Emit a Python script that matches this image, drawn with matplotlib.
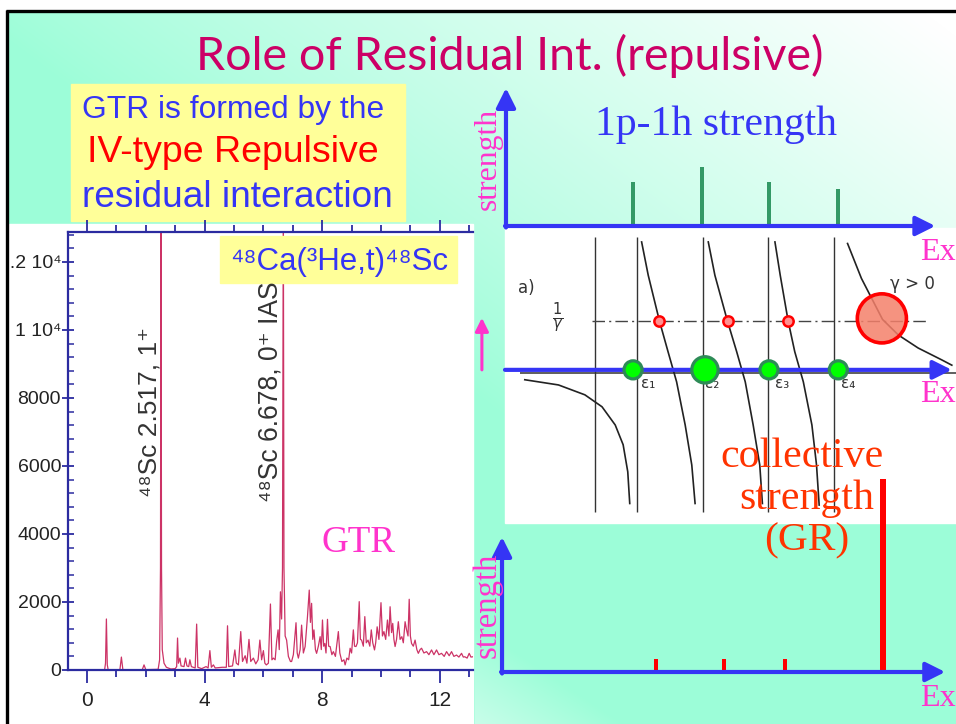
import numpy as np
import matplotlib
matplotlib.use("Agg")
import matplotlib.pyplot as plt
from matplotlib.patches import Rectangle

# ---------------- data ----------------
# 48Ca(3He,t)48Sc spectrum (Ex in MeV, counts)
spec_E = [-0.6, 0.0, 0.6, 0.63, 0.66, 0.69, 0.72, 1.12, 1.17, 1.22, 1.88, 1.94, 2.0, 2.42, 2.47, 2.50,
          2.517, 2.535, 2.56, 2.62, 2.7, 2.85, 3.0, 3.05, 3.08, 3.11, 3.16, 3.2, 3.3, 3.35, 3.4, 3.46,
          3.5, 3.55, 3.68, 3.73, 3.77, 3.9, 4.05, 4.12, 4.18, 4.23, 4.3, 4.36, 4.6, 4.74, 4.78, 4.82,
          4.95, 5.03, 5.08, 5.15, 5.23, 5.29, 5.38, 5.44, 5.51, 5.57, 5.66, 5.74, 5.82, 5.88, 5.94,
          6.0, 6.05, 6.1, 6.17, 6.24, 6.29, 6.34, 6.40, 6.45, 6.5, 6.54, 6.58, 6.62, 6.65, 6.678,
          6.70, 6.74, 6.79, 6.85, 6.92, 6.96, 7.02, 7.11, 7.15, 7.19, 7.25, 7.3, 7.36, 7.42, 7.5,
          7.56, 7.6, 7.64, 7.68, 7.72, 7.77, 7.81, 7.87, 7.93, 7.97, 8.01, 8.05, 8.09, 8.13, 8.18,
          8.22, 8.27, 8.33, 8.38, 8.45, 8.55, 8.6, 8.67, 8.74, 8.78, 8.84, 8.9, 8.95, 9.0, 9.06,
          9.1, 9.15, 9.2, 9.26, 9.3, 9.34, 9.4, 9.45, 9.5, 9.56, 9.62, 9.67, 9.72, 9.78, 9.82,
          9.87, 9.93, 10.0, 10.05, 10.1, 10.16, 10.22, 10.27, 10.31, 10.36, 10.4, 10.44, 10.48,
          10.53, 10.59, 10.65, 10.71, 10.76, 10.82, 10.87, 10.92, 10.96, 11.0, 11.04, 11.1, 11.16,
          11.22, 11.27, 11.33, 11.38, 11.46, 11.55, 11.63, 11.72, 11.8, 11.89, 11.97, 12.06, 12.15,
          12.23, 12.32, 12.4, 12.48, 12.57, 12.65, 12.74, 12.8, 12.85, 12.93, 13.0, 13.06, 13.13]
spec_C = [0, 10, 10, 200, 1500, 150, 10, 10, 380, 10, 10, 150, 10, 20, 300, 3000,
          14000, 3000, 600, 200, 80, 30, 40, 100, 940, 200, 350, 120, 100, 350, 120, 100,
          300, 100, 60, 1350, 80, 40, 100, 60, 570, 80, 150, 60, 80, 80, 1300, 100,
          120, 590, 200, 150, 1130, 250, 420, 200, 900, 250, 350, 180, 300, 880, 300,
          570, 200, 150, 200, 1940, 300, 350, 300, 840, 1180, 600, 2300, 1500, 3000, 14000,
          3000, 1000, 880, 400, 250, 250, 450, 1390, 500, 350, 600, 1320, 500, 690, 1570,
          2350, 1400, 1960, 900, 1180, 600, 490, 700, 980, 600, 1470, 700, 780, 500, 1490,
          700, 690, 450, 540, 400, 1130, 500, 250, 300, 150, 350, 300, 640, 500, 1180,
          700, 690, 800, 2010, 900, 880, 700, 1570, 800, 880, 700, 1180, 800, 590, 800,
          1270, 900, 1980, 1000, 1130, 900, 1470, 1000, 1860, 1100, 1370, 900, 690,
          900, 1420, 900, 980, 800, 1420, 1180, 1000, 2080, 1000, 780, 700, 880,
          600, 490, 600, 640, 500, 540, 450, 590, 450, 590, 450, 490, 400,
          540, 420, 540, 400, 440, 380, 490, 380, 390, 350, 490, 380, 390]
spec_yticks = [0, 2000, 4000, 6000, 8000, 10000, 12000]
spec_ylabels = ["0", "2000", "4000", "6000", "8000", "1 10\u2074", "1.2 10\u2074"]
spec_xticks = [0, 4, 8, 12]

# schematic (arbitrary energy units; poles eps_1..eps_4)
pp_x = [0.94, 1.98, 3.0, 4.05]            # unperturbed 1p-1h energies
pp_strength = [44, 59, 44, 37]
green_x = [0.94, 2.03, 3.0, 4.05]
green_size = [170, 360, 170, 170]
red_x = [1.33, 2.38, 3.29]
big_red_x = 4.71
gr_x = [1.29, 2.32, 3.24, 4.73]
gr_strength = [13, 13, 13, 193]
pole_lines = [0.36, 1.0, 2.0, 2.985, 3.985]

br0_x = [-0.70, -0.19, 0.21, 0.47, 0.67, 0.79, 0.86, 0.89]
br0_y = [-0.13, -0.23, -0.42, -0.65, -1.0, -1.38, -1.90, -2.51]
br1_x = [1.07, 1.17, 1.34, 1.47, 1.60, 1.73, 1.83, 1.88]
br1_y = [2.52, 1.88, 1.0, 0.41, -0.17, -1.0, -1.77, -2.51]
br2_x = [2.08, 2.18, 2.37, 2.51, 2.64, 2.76, 2.86, 2.90]
br2_y = [2.52, 1.88, 1.0, 0.41, -0.17, -1.0, -1.77, -2.51]
br3_x = [3.09, 3.17, 3.29, 3.39, 3.52, 3.65, 3.72, 3.76]
br3_y = [2.52, 1.88, 1.0, 0.41, -0.17, -1.0, -1.77, -2.54]
br4_x = [4.19, 4.40, 4.72, 4.96, 5.26, 5.62, 5.77]
br4_y = [2.49, 1.82, 1.03, 0.73, 0.48, 0.25, 0.15]

# ---------------- figure ----------------
W, H = 956, 724
fig = plt.figure(figsize=(W / 100, H / 100), dpi=100)


def axpos(x0, y0, x1, y1):
    return [x0 / W, 1 - y1 / H, (x1 - x0) / W, (y1 - y0) / H]


def bare(ax):
    ax.set_xticks([])
    ax.set_yticks([])
    for sp in ax.spines.values():
        sp.set_visible(False)


BLUE = "#3535F5"
MAG = "#FF33CC"
NAVY = "#2B2BA0"
SANS = ["Liberation Sans", "DejaVu Sans"]
SERIF = ["Liberation Serif", "DejaVu Serif"]

# background
bg = fig.add_axes([0, 0, 1, 1], zorder=-5)
bg.set_xlim(0, W); bg.set_ylim(H, 0); bg.axis("off")
aqua = np.array([156, 253, 216]) / 255.0
XX, YY = np.meshgrid(np.arange(W) + 0.5, np.arange(H) + 0.5)
t = np.clip(XX / W + (1 - YY / H) - 0.95, 0, 1) ** 0.9
mask = (YY > 523) & (XX > 475)
t2 = np.clip(0.45 * (1 - ((XX - 475) / 150 + (724 - YY) / 100)), 0, 1)
t = np.where(mask, t2, t)
img = aqua[None, None, :] * (1 - t[..., None]) + t[..., None]
bg.imshow(img, extent=(0, W, H, 0), aspect="auto", interpolation="bilinear")
bg.add_patch(Rectangle((71, 84), 334, 137, color="#FFFF99"))
bg.add_patch(Rectangle((9, 224), 464, H - 224, color="white"))
bg.add_patch(Rectangle((505, 228), W - 505, 295, color="white"))

# ---------------- spectrum ----------------
ax_s = fig.add_axes(axpos(68, 232, 473, 670), zorder=1)
ax_s.set_facecolor("white")
ax_s.plot(spec_E, spec_C, color="#CC3366", lw=0.9)
ax_s.set_xlim(-0.646, 13.13)
ax_s.set_ylim(0, 12880)
ax_s.spines["right"].set_visible(False)
for s in ["left", "top", "bottom"]:
    ax_s.spines[s].set_color(NAVY)
    ax_s.spines[s].set_linewidth(1.6)
ax_s.set_xticks(spec_xticks)
ax_s.set_xticks(np.arange(0, 14), minor=True)
ax_s.set_yticks(spec_yticks)
ax_s.set_yticklabels(spec_ylabels)
ax_s.set_yticks(np.arange(0, 12900, 400), minor=True)
ax_s.tick_params(axis="x", which="both", direction="out", top=True, color=NAVY, width=1.3)
ax_s.tick_params(axis="x", which="major", length=9, pad=6, labelsize=15)
ax_s.tick_params(axis="x", which="minor", length=5)
ax_s.tick_params(axis="y", which="major", direction="inout", length=8, pad=1,
                 labelsize=14, color=NAVY, width=1.3)
ax_s.tick_params(axis="y", which="minor", direction="in", length=4, color=NAVY, width=1.1)
for lab in ax_s.get_xticklabels() + ax_s.get_yticklabels():
    lab.set_family(SANS)
    lab.set_color("#222222")

# ---------------- diagram (middle) ----------------
ax_d = fig.add_axes(axpos(505, 228, 956, 523), zorder=1)
ax_d.set_facecolor("white")
ax_d.set_xlim(-1.0, 5.8333)
ax_d.set_ylim(-2.885, 2.788)
bare(ax_d)
ax_d.vlines(pole_lines, -2.67, 2.62, color="#333333", lw=1.0)
ax_d.hlines(0, -0.77, 5.9, color="#333333", lw=1.1)
ax_d.hlines(1.0, 0.32, 5.39, color="#444444", lw=1.0, linestyles=[(0, (9, 3, 1.5, 3))])
for bx, by in [(br0_x, br0_y), (br1_x, br1_y), (br2_x, br2_y), (br3_x, br3_y), (br4_x, br4_y)]:
    ax_d.plot(bx, by, color="#222222", lw=1.2)
ax_d.text(-0.67, 1.63, "a)", fontsize=12, color="#333333", ha="center", va="center", family="DejaVu Sans")
ax_d.text(-0.2, 1.06, r"$\frac{1}{\gamma}$", fontsize=15, color="#333333", ha="center", va="center")
ax_d.text(5.18, 1.71, "\u03b3 > 0", fontsize=12, color="#333333", ha="center", va="center", family="DejaVu Sans")
for i, ex in enumerate([1.17, 2.14, 3.2, 4.2]):
    ax_d.text(ex, -0.2, "\u03b5" + "\u2081\u2082\u2083\u2084"[i], fontsize=11, color="#333333",
              ha="center", va="center", family="DejaVu Sans")
ax_d.annotate("", xy=(5.77, 0.06), xytext=(-1.0, 0.06),
              arrowprops=dict(arrowstyle="-|>,head_length=0.8,head_width=0.4", color=BLUE, lw=3,
                              mutation_scale=14, shrinkA=0, shrinkB=0), annotation_clip=False)
ax_d.annotate("", xy=(-1.35, 1.06), xytext=(-1.35, 0.06),
              arrowprops=dict(arrowstyle="-|>,head_length=0.8,head_width=0.4", color=MAG, lw=2.2,
                              mutation_scale=10, shrinkA=0, shrinkB=0), annotation_clip=False)
ax_d.scatter(green_x, [0.06] * len(green_x), s=green_size, color="#00FF00", edgecolor="#2E8B57",
             linewidth=2.3, zorder=5)
ax_d.scatter(red_x, [1.0] * len(red_x), s=55, color="#FF9090", edgecolor="red", linewidth=1.8, zorder=5)
ax_d.scatter([big_red_x], [1.05], s=1250, color="#F4806A", alpha=0.85, edgecolor="none", zorder=5)
ax_d.scatter([big_red_x], [1.05], s=1250, facecolor="none", edgecolor="red", linewidth=2.6, zorder=6)

# ---------------- top panel ----------------
ax_t = fig.add_axes(axpos(475, 80, 956, 230), zorder=2)
ax_t.set_xlim(-1.4545, 5.8333)
ax_t.set_ylim(-4, 146)
ax_t.axis("off")
ax_t.bar(pp_x, pp_strength, width=0.06, color="#339966")
arrow_kw = dict(arrowstyle="-|>,head_length=0.9,head_width=0.45", color=BLUE, lw=3,
                mutation_scale=13, shrinkA=0, shrinkB=0)
ax_t.annotate("", xy=(-0.985, 138), xytext=(-0.985, -1.5), arrowprops=arrow_kw, annotation_clip=False)
ax_t.annotate("", xy=(5.52, 0), xytext=(-1.0, 0), arrowprops=arrow_kw, annotation_clip=False)

# ---------------- bottom panel ----------------
ax_b = fig.add_axes(axpos(475, 523, 956, 724), zorder=2)
ax_b.set_xlim(-1.4545, 5.8333)
ax_b.set_ylim(-52, 149)
ax_b.axis("off")
ax_b.bar(gr_x, gr_strength, width=[0.055, 0.055, 0.055, 0.1], color="#FF0000", clip_on=False)
ax_b.annotate("", xy=(-1.045, 135), xytext=(-1.045, -1.5), arrowprops=arrow_kw, annotation_clip=False)
ax_b.annotate("", xy=(5.67, 0), xytext=(-1.06, 0), arrowprops=arrow_kw, annotation_clip=False)

# ---------------- overlay (texts, boxes, frame) ----------------
ov = fig.add_axes([0, 0, 1, 1], zorder=10)
ov.set_xlim(0, W); ov.set_ylim(H, 0); ov.axis("off")
ov.add_patch(Rectangle((220, 236), 237, 47, color="#FFFF99"))
ov.add_patch(Rectangle((0, 0), 6, H, color="white"))
ov.add_patch(Rectangle((0, 0), W, 9.5, color="white"))
ov.plot([7.5, 7.5], [10, H], color="black", lw=2.4, solid_capstyle="butt")
ov.plot([6, W], [10.8, 10.8], color="black", lw=2.4, solid_capstyle="butt")

r = fig.canvas.get_renderer()


def fitw(tx, w):
    bb = tx.get_window_extent(r)
    tx.set_fontsize(tx.get_fontsize() * w / bb.width)


def fith(tx, h):
    bb = tx.get_window_extent(r)
    tx.set_fontsize(tx.get_fontsize() * h / bb.height)


title = ov.text(510, 70, "Role of Residual Int. (repulsive)", color="#CC0066", ha="center",
                va="baseline", fontsize=28, family=["Lato", "DejaVu Sans"])
fitw(title, 628)

t1 = ov.text(82, 118, "GTR is formed by the", color=BLUE, ha="left", va="baseline", fontsize=22, family=SANS)
fitw(t1, 301)
t2 = ov.text(87, 162, "IV-type Repulsive", color="#FF0000", ha="left", va="baseline", fontsize=26, family=SANS)
fitw(t2, 291)
t3 = ov.text(82, 207, "residual interaction", color=BLUE, ha="left", va="baseline", fontsize=26, family=SANS)
fitw(t3, 310)

tc = ov.text(230, 270, "\u2074\u2078Ca(\u00b3He,t)\u2074\u2078Sc", color=BLUE, ha="left", va="baseline",
             fontsize=22, family=SANS)
fitw(tc, 218)

l1 = ov.text(150, 412, "\u2074\u2078Sc 2.517, 1\u207a", color="#333333", rotation=90, ha="center",
             va="center", fontsize=16, family=SANS)
fith(l1, 170)
l2 = ov.text(271, 392, "\u2074\u2078Sc 6.678, 0\u207a IAS", color="#333333", rotation=90, ha="center",
             va="center", fontsize=16, family=SANS)
fith(l2, 221)

gtr = ov.text(322, 552, "GTR", color=MAG, ha="left", va="baseline", fontsize=26, family=SERIF)
fitw(gtr, 74)

p1 = ov.text(716, 135, "1p-1h strength", color=BLUE, ha="center", va="baseline", fontsize=30, family=SERIF)
fitw(p1, 242)

s1 = ov.text(488, 159, "strength", color=MAG, rotation=90, ha="center", va="center", fontsize=22, family=SERIF)
fith(s1, 102)
s2 = ov.text(487, 605, "strength", color=MAG, rotation=90, ha="center", va="center", fontsize=22, family=SERIF)
fith(s2, 105)

for yb in [260, 402, 706]:
    ov.text(920, yb, "Ex", color=MAG, ha="left", va="baseline", fontsize=23, family=SERIF)

c1 = ov.text(802, 467, "collective", color="#FF3300", ha="center", va="baseline", fontsize=30, family=SERIF)
fitw(c1, 163)
c2 = ov.text(807, 509, "strength", color="#FF3300", ha="center", va="baseline", fontsize=30, family=SERIF)
fitw(c2, 135)
c3 = ov.text(807, 550, "(GR)", color="#FF3300", ha="center", va="baseline", fontsize=30, family=SERIF)
fitw(c3, 85)

fig.savefig("out.png", dpi=100)
